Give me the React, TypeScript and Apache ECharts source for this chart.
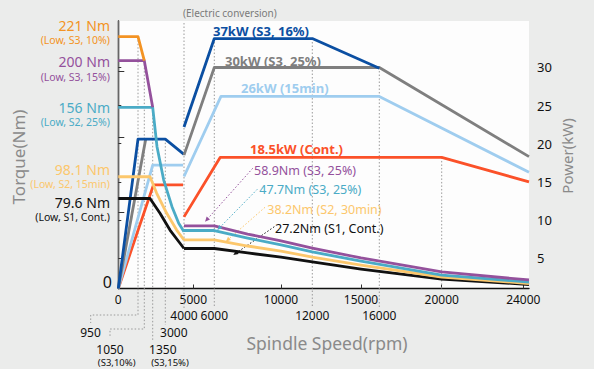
import React, { useEffect, useRef } from "react";
import * as echarts from "echarts";

const W = 594;
const H = 369;
const FONT = '"Noto Sans", "Open Sans", sans-serif';
const GRID = { left: 118.3, right: 65, top: 21, bottom: 80.5 };
const PLOT_W = W - GRID.left - GRID.right;
const PLOT_BOTTOM = H - GRID.bottom;
const PLOT_H = PLOT_BOTTOM - GRID.top;

// schematic (non-linear) speed axis: rpm knots and their distance along the axis
const speedKnots = [0, 950, 1050, 1350, 3000, 4000, 5000, 6000, 10000, 12000, 15000, 16000, 20000, 24000, 24300];
const speedPos = [0, 19.7, 26, 34.4, 47, 65.7, 75, 96, 162.7, 194, 242.7, 261, 323.4, 405, PLOT_W];

const TQ_MIN = 0;
const TQ_MAX = 234.8;
const PW_MIN = 1;
const PW_MAX = 36.1;

// axis tick values / labels
const xLabelsRow1 = [0, 5000, 10000, 15000, 20000, 24000];
const xTicks = [0, 5000, 10000, 15000, 20000, 24000];
const xLabelsRow2 = [4000, 6000, 12000, 16000];
const powerTicks = [5, 10, 15, 20, 25, 30];
const torqueTicks = [190.3, 132.7, 66.5];

// ---- torque curves (Nm) : [rpm, Nm]
const tqLowS3_10 = [[0, 221], [950, 221], [1050, 200]];
const tqLowS3_15 = [[0, 200], [1050, 200], [1350, 159]];
const tqLowS2_25 = [[0, 159], [1350, 159], [1913, 124.5], [2791, 95.2], [3358, 71.8], [3717, 57.2], [4000, 49.9]];
const tqLowS2_15 = [[0, 98.1], [1254, 98.1], [1874, 83.6], [3075, 66.0], [3610, 51.3], [4000, 42.6]];
const tqLowS1 = [[0, 79], [1254, 79], [2306, 66], [3251, 51.3], [3786, 39.7], [4000, 35.1]];
const tqHiS3_25a = [[4000, 54.9], [6000, 54.9], [8000, 47.8], [10000, 41.7], [12000, 35.5], [15000, 26.8], [20000, 14.5], [24300, 7.5]];
const tqHiS3_25b = [[4000, 50.9], [6000, 50.9], [8000, 44.3], [10000, 38.2], [12000, 32.1], [15000, 24.1], [20000, 11.8], [24300, 5.7]];
const tqHiS2_30 = [[4000, 42.6], [6000, 42.6], [8000, 37.3], [10000, 32.9], [12000, 27.6], [15000, 20.6], [20000, 10.1], [24300, 4.4]];
const tqHiS1 = [[4000, 35.1], [6000, 35.1], [8000, 31.2], [10000, 27.6], [12000, 23.3], [15000, 17.1], [20000, 8.3], [24300, 3.5]];

// ---- power curves (kW) : [rpm, kW]
const pwLow37 = [[0, 1], [950, 20.6], [3000, 20.6], [4000, 18.6]];
const pwLow30 = [[0, 1], [1100, 20.6]];
const pwLow26 = [[0, 1], [1350, 17.2], [3950, 17.2]];
const pwLow18 = [[0, 1], [1450, 14.6], [3950, 14.6]];
const pwHi37 = [[4000, 22.2], [6000, 33.8], [12000, 33.8], [16000, 29.9]];
const pwHi30 = [[4000, 18.5], [6000, 30.0], [16000, 30.0], [24300, 18.3]];
const pwHi26 = [[4000, 15.7], [6400, 26.2], [16000, 26.2], [24300, 16.25]];
const pwHi18 = [[4000, 10.4], [6350, 18.2], [20000, 18.2], [24300, 15.0]];

const C = {
  orange: "#f39323",
  purple: "#94519c",
  cyan: "#4aabc6",
  yellow: "#fcc76c",
  black: "#111111",
  blue: "#0b4fa2",
  gray: "#7f7f7f",
  lightBlue: "#9fcdef",
  red: "#fb5129",
  guide: "#9a9a9a",
  axisTitle: "#8a8a8a",
};

function sx(rpm: number): number {
  for (let i = 1; i < speedKnots.length; i++) {
    if (rpm <= speedKnots[i]) {
      const a = speedKnots[i - 1];
      const b = speedKnots[i];
      const t = (rpm - a) / (b - a);
      return speedPos[i - 1] + t * (speedPos[i] - speedPos[i - 1]);
    }
  }
  return speedPos[speedPos.length - 1];
}
const X = (rpm: number) => GRID.left + sx(rpm);
const Yt = (t: number) => PLOT_BOTTOM - ((t - TQ_MIN) * PLOT_H) / (TQ_MAX - TQ_MIN);
const Yp = (p: number) => PLOT_BOTTOM - ((p - PW_MIN) * PLOT_H) / (PW_MAX - PW_MIN);

function line(name: string, data: number[][], color: string, yAxisIndex: number, z: number) {
  return {
    name,
    type: "line",
    yAxisIndex,
    data: data.map(([r, v]) => [sx(r), v]),
    showSymbol: false,
    symbol: "none",
    z,
    lineStyle: { color, width: 2.8, join: "round" },
    silent: true,
  };
}

function txt(text: string, x: number, y: number, color: string, size: number, align = "left", weight: any = "normal", rotation = 0) {
  return {
    type: "text",
    x,
    y,
    rotation,
    z: 10,
    silent: true,
    style: {
      text,
      fill: color,
      fontSize: size,
      fontWeight: weight,
      fontFamily: FONT,
      align,
      verticalAlign: "middle",
      textAlign: align,
      textVerticalAlign: "middle",
    },
  };
}

function dotted(points: number[][], color = C.guide) {
  return {
    type: "polyline",
    z: 1,
    silent: true,
    shape: { points },
    style: { stroke: color, lineWidth: 1, lineDash: [1.5, 2], fill: null },
  };
}

function arrow(from: number[], to: number[], color: string) {
  const dx = to[0] - from[0];
  const dy = to[1] - from[1];
  const len = Math.hypot(dx, dy);
  const ux = dx / len;
  const uy = dy / len;
  const s = 5;
  const bx = to[0] - ux * s;
  const by = to[1] - uy * s;
  const px = -uy * 2.2;
  const py = ux * 2.2;
  return [
    dotted([from, [bx, by]], color),
    {
      type: "polygon",
      z: 10,
      silent: true,
      shape: { points: [[to[0], to[1]], [bx + px, by + py], [bx - px, by - py]] },
      style: { fill: color },
    },
  ];
}

function labelFor(list: number[]) {
  return (v: number) => {
    for (const r of list) if (Math.abs(sx(r) - v) < 0.01) return String(r);
    return "";
  };
}

export default function App() {
  const ref = useRef<HTMLDivElement>(null);

  useEffect(() => {
    if (!ref.current) return;
    const chart = echarts.init(ref.current, undefined, { renderer: "svg" });

    const guides = [
      dotted([[X(950), Yt(221)], [X(950), 315], [90.7, 315], [90.7, 323]]),
      dotted([[X(1050), Yt(200)], [X(1050), 329], [110, 329], [110, 337]]),
      dotted([[X(1350), Yt(159)], [X(1350), 341.7]]),
      dotted([[X(3000), Yp(20.6)], [X(3000), 325]]),
      dotted([[X(4000), GRID.top + 2], [X(4000), 308]]),
      dotted([[X(6000), Yp(33.8)], [X(6000), 308]]),
      dotted([[X(12000), Yp(33.8)], [X(12000), 306]]),
      dotted([[X(16000), Yp(30)], [X(16000), 309]]),
      dotted([[X(20000), Yp(18.2)], [X(20000), PLOT_BOTTOM]]),
    ];

    const texts = [
      txt("(Electric conversion)", 183, 12.7, "#7a7a7a", 10),
      txt("221 Nm", 110, 25.3, C.orange, 14, "right"),
      txt("(Low, S3, 10%)", 110, 40.3, C.orange, 10.5, "right"),
      txt("200 Nm", 110, 61.7, C.purple, 14, "right"),
      txt("(Low, S3, 15%)", 110, 76.7, C.purple, 10.5, "right"),
      txt("156 Nm", 110, 107.2, C.cyan, 14, "right"),
      txt("(Low, S2, 25%)", 110, 122.2, C.cyan, 10.5, "right"),
      txt("98.1 Nm", 110, 169.3, C.yellow, 14, "right"),
      txt("(Low, S2, 15min)", 110, 184.2, C.yellow, 10.5, "right"),
      txt("79.6 Nm", 110, 202, C.black, 14, "right"),
      txt("(Low, S1, Cont.)", 110, 216.9, C.black, 10.5, "right"),
      txt("0", 112, 282, C.black, 16, "right"),
      txt("37kW (S3, 16%)", 213, 31, C.blue, 13, "left", "bold"),
      txt("30kW (S3, 25%)", 225, 60.7, C.gray, 13, "left", "bold"),
      txt("26kW (15min)", 241, 88.3, C.lightBlue, 13, "left", "bold"),
      txt("18.5kW (Cont.)", 250, 149.3, C.red, 13, "left", "bold"),
      txt("58.9Nm (S3, 25%)", 254, 170, C.purple, 12.5),
      txt("47.7Nm (S3, 25%)", 259.3, 189.3, C.cyan, 12.5),
      txt("38.2Nm (S2, 30min)", 267.3, 209, C.yellow, 12.5),
      txt("27.2Nm (S1, Cont.)", 275, 228.3, C.black, 12.5),
      txt("950", 90.5, 332, C.black, 12, "center"),
      txt("3000", 173.8, 332.7, C.black, 12, "center"),
      txt("1050", 110, 349.3, C.black, 12, "center"),
      txt("1350", 162.8, 349.3, C.black, 12, "center"),
      txt("(S3,10%)", 116.7, 362.7, C.black, 9.5, "center"),
      txt("(S3,15%)", 170, 362.7, C.black, 9.5, "center"),
      txt("Spindle Speed(rpm)", 327, 343, C.axisTitle, 17.5, "center"),
      txt("Torque(Nm)", 18, 157, C.axisTitle, 17, "center", "normal", Math.PI / 2),
      txt("Power(kW)", 566.7, 156, C.axisTitle, 15, "center", "normal", Math.PI / 2),
    ];

    const arrows = [
      ...arrow([252.7, 168.3], [205, 221.7], C.purple),
      ...arrow([257.3, 189.3], [217.3, 230], C.cyan),
      ...arrow([265, 207.3], [225.7, 241.7], C.yellow),
      ...arrow([274.3, 226.7], [233.3, 255], C.black),
    ];

    chart.setOption({
      animation: false,
      backgroundColor: "#ebeceb",
      textStyle: { fontFamily: FONT },
      grid: {
        left: GRID.left,
        right: GRID.right,
        top: GRID.top,
        bottom: GRID.bottom,
        show: true,
        backgroundColor: "#fdfdfd",
        borderWidth: 0,
      },
      xAxis: [
        {
          type: "value",
          min: 0,
          max: PLOT_W,
          position: "bottom",
          axisLine: { show: true, lineStyle: { color: "#111", width: 1.3 } },
          axisTick: { show: true, inside: true, length: 4, customValues: xTicks.map(sx), lineStyle: { color: "#333" } },
          axisLabel: {
            customValues: xLabelsRow1.map(sx),
            formatter: labelFor(xLabelsRow1),
            color: "#111",
            fontSize: 12,
            margin: 5,
            fontFamily: FONT,
          },
          splitLine: { show: false },
        },
        {
          type: "value",
          min: 0,
          max: PLOT_W,
          position: "bottom",
          axisLine: { show: false },
          axisTick: { show: false },
          axisLabel: {
            customValues: xLabelsRow2.map(sx),
            formatter: labelFor(xLabelsRow2),
            color: "#111",
            fontSize: 12,
            margin: 21,
            fontFamily: FONT,
          },
          splitLine: { show: false },
        },
      ],
      yAxis: [
        {
          type: "value",
          min: TQ_MIN,
          max: TQ_MAX,
          position: "left",
          axisLine: { show: true, lineStyle: { color: "#111", width: 1.3 } },
          axisTick: { show: true, inside: true, length: 6, customValues: torqueTicks, lineStyle: { color: "#333" } },
          axisLabel: { show: false },
          splitLine: { show: false },
        },
        {
          type: "value",
          min: PW_MIN,
          max: PW_MAX,
          position: "right",
          axisLine: { show: true, lineStyle: { color: "#666", width: 1.4 } },
          axisTick: { show: true, inside: false, length: 3, customValues: powerTicks, lineStyle: { color: "#333" } },
          axisLabel: { customValues: powerTicks, color: "#111", fontSize: 13, margin: 8, fontFamily: FONT },
          splitLine: { show: false },
        },
      ],
      series: [
        line("S1 low", tqLowS1, C.black, 0, 3),
        line("S2 15min low", tqLowS2_15, C.yellow, 0, 3),
        line("S2 25% low", tqLowS2_25, C.cyan, 0, 3),
        line("S3 15% low", tqLowS3_15, C.purple, 0, 3),
        line("S3 10% low", tqLowS3_10, C.orange, 0, 3),
        line("S1 high", tqHiS1, C.black, 0, 3),
        line("S2 30min high", tqHiS2_30, C.yellow, 0, 3),
        line("S3 25% high b", tqHiS3_25b, C.cyan, 0, 3),
        line("S3 25% high a", tqHiS3_25a, C.purple, 0, 3),
        line("18.5kW low", pwLow18, C.red, 1, 2),
        line("26kW low", pwLow26, C.lightBlue, 1, 2),
        line("30kW low", pwLow30, C.gray, 1, 2),
        line("37kW low", pwLow37, C.blue, 1, 2),
        line("18.5kW high", pwHi18, C.red, 1, 2),
        line("26kW high", pwHi26, C.lightBlue, 1, 2),
        line("30kW high", pwHi30, C.gray, 1, 2),
        line("37kW high", pwHi37, C.blue, 1, 2),
      ],
      graphic: { elements: [...guides, ...arrows, ...texts] },
    });

    return () => chart.dispose();
  }, []);

  return <div ref={ref} style={{ position: "fixed", left: 0, top: 0, width: W, height: H }} />;
}
